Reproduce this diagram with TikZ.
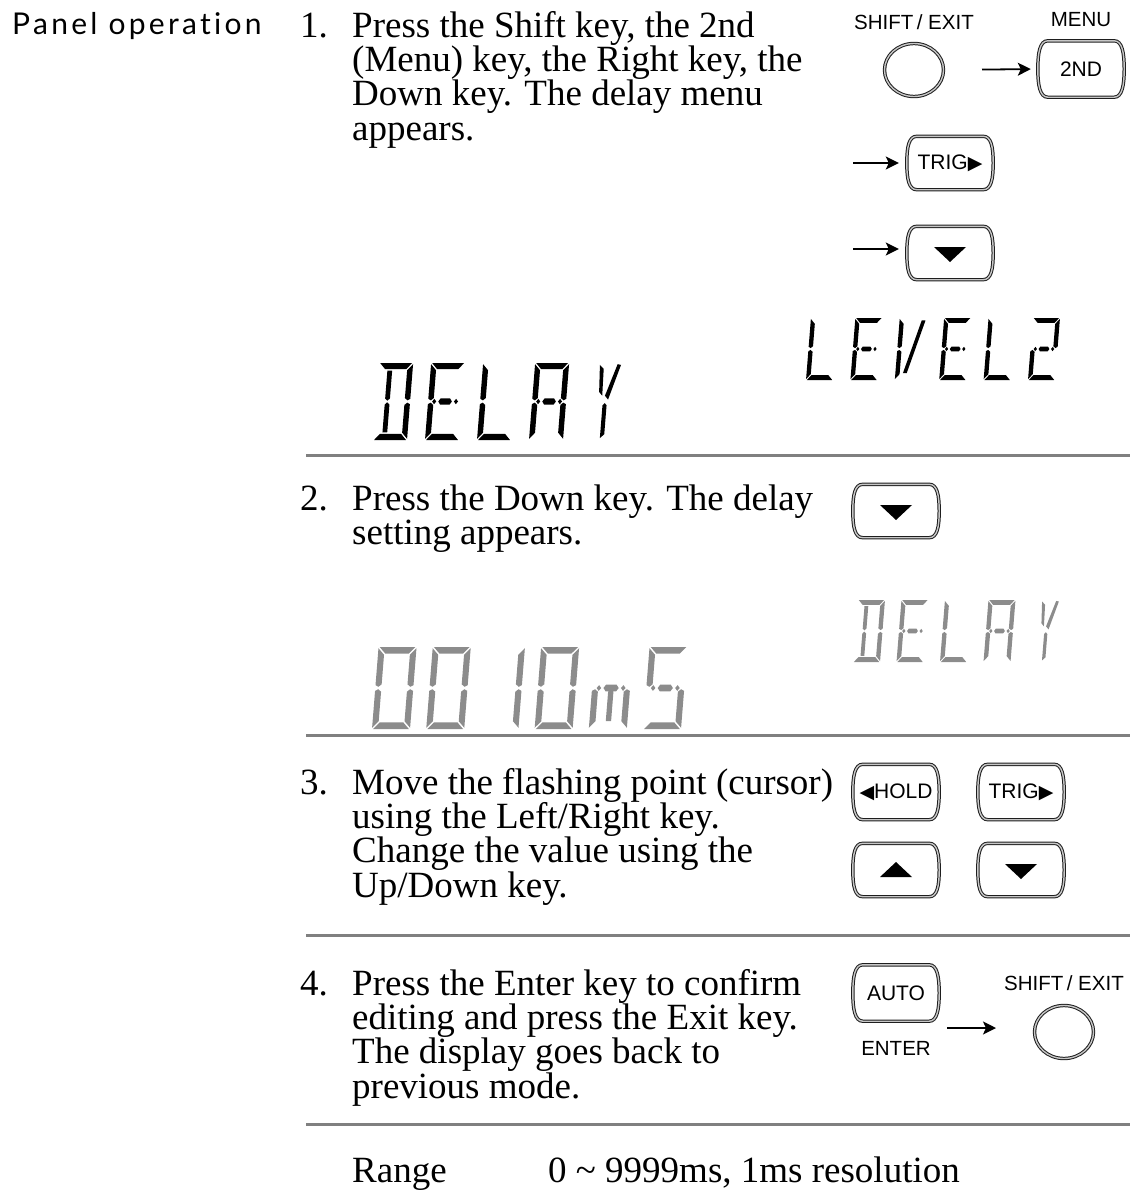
\documentclass[tikz,border=0pt]{standalone}
\usepackage{fontspec}
\setmainfont{Liberation Serif}
\newfontfamily\keyfont{Liberation Sans}
\newfontfamily\headfont[LetterSpace=11, Ligatures=NoCommon]{Lato}
\newfontfamily\symfont{DejaVu Sans}
\usetikzlibrary{arrows.meta, calc, positioning, shapes.geometric}

\definecolor{sepgray}{RGB}{128,128,128}
\definecolor{lcdgray}{RGB}{140,140,140}
\definecolor{keyedge}{RGB}{30,30,30}

\newcommand\bodyfont{\fontsize{37}{34.3}\selectfont\lineskiplimit=-20pt}
\newcommand\bodystrut{\rule{0pt}{27pt}}

% segment outlines of one LCD cell (x 0..1, y 0..2)
\def\lcdpatha{(0.03,2) -- (0.97,2) -- (0.81,1.84) -- (0.19,1.84) -- cycle}
\def\lcdpathb{(1,1.97) -- (0.84,1.81) -- (0.84,1.09) -- (0.92,1.03) -- (1,1.07) -- cycle}
\def\lcdpathc{(1,0.03) -- (0.84,0.19) -- (0.84,0.91) -- (0.92,0.97) -- (1,0.93) -- cycle}
\def\lcdpathd{(0.03,0) -- (0.97,0) -- (0.81,0.16) -- (0.19,0.16) -- cycle}
\def\lcdpathe{(0,0.03) -- (0.16,0.19) -- (0.16,0.91) -- (0.08,0.97) -- (0,0.93) -- cycle}
\def\lcdpathf{(0,1.97) -- (0.16,1.81) -- (0.16,1.09) -- (0.08,1.03) -- (0,1.07) -- cycle}
\def\lcdpathg{(0.12,1) -- (0.18,1.07) -- (0.24,1) -- (0.18,0.93) -- cycle
  (0.30,1) -- (0.36,1.08) -- (0.64,1.08) -- (0.70,1) -- (0.64,0.92) -- (0.36,0.92) -- cycle
  (0.76,1) -- (0.82,1.07) -- (0.88,1) -- (0.82,0.93) -- cycle}
\def\lcdpathp{(0.26,1.80) -- (0.40,1.80) -- (0.40,1.08) -- (0.33,1.02) -- (0.26,1.08) -- cycle}
\def\lcdpathq{(0.26,0.20) -- (0.40,0.20) -- (0.40,0.92) -- (0.33,0.98) -- (0.26,0.92) -- cycle}
\def\lcdpathr{(0.43,0.19) -- (0.57,0.19) -- (0.57,0.91) -- (0.50,0.97) -- (0.43,0.91) -- cycle}
\def\lcdpathv{(0.28,0.22) -- (0.42,0.22) -- (0.96,1.92) -- (0.82,1.92) -- cycle}
\def\lcdpathh{(0.38,1.95) -- (0.50,1.85) -- (0.52,1.15) -- (0.42,1.25) -- cycle}
\def\lcdpathj{(0.90,1.97) -- (1.0,1.95) -- (0.70,1.05) -- (0.60,1.15) -- cycle}
\def\lcdpathk{(0.55,0.05) -- (0.67,0.15) -- (0.67,0.90) -- (0.61,0.96) -- (0.55,0.90) -- cycle}

\newcommand\lcdseg[2]{\edef\lcdtmp{\noexpand\fill[#1] \csname lcdpath#2\endcsname;}\lcdtmp}
% #1 left, #2 bottom, #3 height, #4 char width, #5 pitch, #6 style, #7 chars
\newcommand\lcdword[7]{%
  \foreach \segs [count=\i from 0] in {#7}{%
    \begin{scope}[shift={(#1+\i*#5,#2)}, x={(#4pt,0pt)}, y={(0.04*#3pt,0.5*#3pt)}]
      \foreach \s in \segs {\lcdseg{#6}{\s}}
    \end{scope}}}

% barrel outline round a key node
\newcommand\keyframe[1]{%
  \draw[keyline] ($(#1.north west)+(10,0)$) -- ($(#1.north east)+(-10,0)$)
    .. controls +(8,0) and +(0,-16) .. (#1.east)
    .. controls +(0,16) and +(8,0) .. ($(#1.south east)+(-10,0)$)
    -- ($(#1.south west)+(10,0)$)
    .. controls +(-8,0) and +(0,16) .. (#1.west)
    .. controls +(0,-16) and +(-8,0) .. ($(#1.north west)+(10,0)$) -- cycle;}
\newcommand\tridown[1]{\fill ($(#1)+(-16,-6)$) -- ($(#1)+(16,-6)$) -- ($(#1)+(0,9)$) -- cycle;}
\newcommand\triup[1]{\fill ($(#1)+(-16,7)$) -- ($(#1)+(16,7)$) -- ($(#1)+(0,-8)$) -- cycle;}
\newcommand\rtri{{\symfont\fontsize{19}{19}\selectfont ▶}}
\newcommand\ltri{{\symfont\fontsize{19}{19}\selectfont ◀}}

\begin{document}
\begin{tikzpicture}[x=1pt, y=-1pt,
    head/.style={anchor=base west, inner sep=0pt, font=\headfont\fontsize{30}{36}\selectfont},
    num/.style={anchor=base west, inner sep=0pt, font=\bodyfont},
    body/.style={anchor=north west, yshift=27pt, inner sep=0pt, align=left, font=\bodyfont},
    key/.style={minimum width=86pt, minimum height=53pt, inner sep=0pt, font=\keyfont\fontsize{21}{24}\selectfont},
    keyline/.style={draw=keyedge, line width=1pt, double=black!22, double distance=1.4pt},
    shiftkey/.style={ellipse, keyline, minimum width=59pt, minimum height=53pt, inner sep=0pt},
    keylabel/.style={inner sep=0pt, font=\keyfont\fontsize{20.5}{24}\selectfont},
    arr/.style={-{Stealth[length=13pt, width=13pt, inset=3pt]}, line width=1.8pt},
    sepline/.style={draw=sepgray, line width=3pt},
    lcdblack/.style={fill=black},
    lcdlight/.style={fill=lcdgray}]
\useasboundingbox (0,0) rectangle (1130,1202);

\node[head] (panel) at (12,34) {Panel operation};

% step 1
\node[num] (n1) at (300,37) {1.};
\node[body] (t1) at (352,37) {\bodystrut Press the Shift key, the 2nd\\(Menu) key, the Right key, the\\Down key. The delay menu\\appears.};
\node[shiftkey] (kshift1) at (914,70) {};
\node[keylabel, above=13pt of kshift1] (lshift1) {SHIFT\,/ EXIT};
\node[key, minimum height=56pt] (k2nd) at (1081,69) {2ND};
\node[keylabel, above=14pt of k2nd] (lmenu) {MENU};
\node[key] (ktrig1) at (950,163) {TRIG\rtri};
\node[key] (kdown1) at (950,253) {};
\coordinate (a2) at (853,163);
\coordinate (a3) at (853,249);
\draw[arr, shorten <=38pt, shorten >=7pt] (kshift1.east) -- (k2nd.west);
\draw[arr, shorten >=8pt] (a2) -- (ktrig1.west);
\draw[arr, shorten >=8pt] (a3) -- (kdown1.west |- a3);
\lcdword{806}{380}{62}{27}{44.4}{lcdblack}{{f,e,d},{a,f,g,e,d},{f,e,v},{a,f,g,e,d},{f,e,d},{a,b,g,e,d}}
\lcdword{373}{440}{77}{34}{52}{lcdblack}{{a,b,c,d,p,q},{a,f,g,e,d},{f,e,d},{a,b,c,e,f,g},{h,j,k}}
\draw[sepline] (306,455) -- (1130,455);

% step 2
\node[num] (n2) at (300,510) {2.};
\node[body] (t2) at (352,510) {\bodystrut Press the Down key. The delay\\setting appears.};
\node[key] (kdown2) at (896,511) {};
\lcdword{853}{662}{62}{27}{43.5}{lcdlight}{{a,b,c,d,p,q},{a,f,g,e,d},{f,e,d},{a,b,c,e,f,g},{h,j,k}}
\lcdword{372}{729}{82}{38}{54.2}{lcdlight}{{a,b,c,d,e,f},{a,b,c,d,e,f},{b,c},{a,b,c,d,e,f},{e,g,r,c},{a,f,g,c,d}}
\draw[sepline] (306,735) -- (1130,735);

% step 3
\node[num] (n3) at (300,794) {3.};
\node[body] (t3) at (352,794) {\bodystrut Move the flashing point (cursor)\\using the Left/Right key.\\Change the value using the\\Up/Down key.};
\node[key, minimum height=55pt] (khold) at (896,792) {\ltri HOLD};
\node[key, minimum height=55pt] (ktrig2) at (1021,792) {TRIG\rtri};
\node[key] (kup) at (896,870) {};
\node[key] (kdown3) at (1021,870) {};
\draw[sepline] (306,935) -- (1130,935);

% step 4
\node[num] (n4) at (300,995) {4.};
\node[body] (t4) at (352,995) {\bodystrut Press the Enter key to confirm\\editing and press the Exit key.\\The display goes back to\\previous mode.};
\node[key, minimum height=56pt] (kauto) at (896,993) {AUTO};
\node[keylabel, below=20pt of kauto] (lenter) {ENTER};
\node[shiftkey] (kshift2) at (1064,1032) {};
\node[keylabel, above=14pt of kshift2] (lshift2) {SHIFT\,/ EXIT};
\draw[arr] ($(kauto.east |- kshift2.west)+(8,-4)$) -- ($(kshift2.west)+(-38,-4)$);
\draw[sepline] (306,1124) -- (1130,1124);

\node[num] (rlabel) at (352,1182) {Range};
\node[num] (rvalue) at (548,1182) {0 \textasciitilde{} 9999ms, 1ms resolution};

\foreach \k in {k2nd, ktrig1, kdown1, kdown2, khold, ktrig2, kup, kdown3, kauto} {\keyframe{\k}}
\foreach \k in {kdown1, kdown2, kdown3} {\tridown{\k}}
\triup{kup}
\end{tikzpicture}
\end{document}
